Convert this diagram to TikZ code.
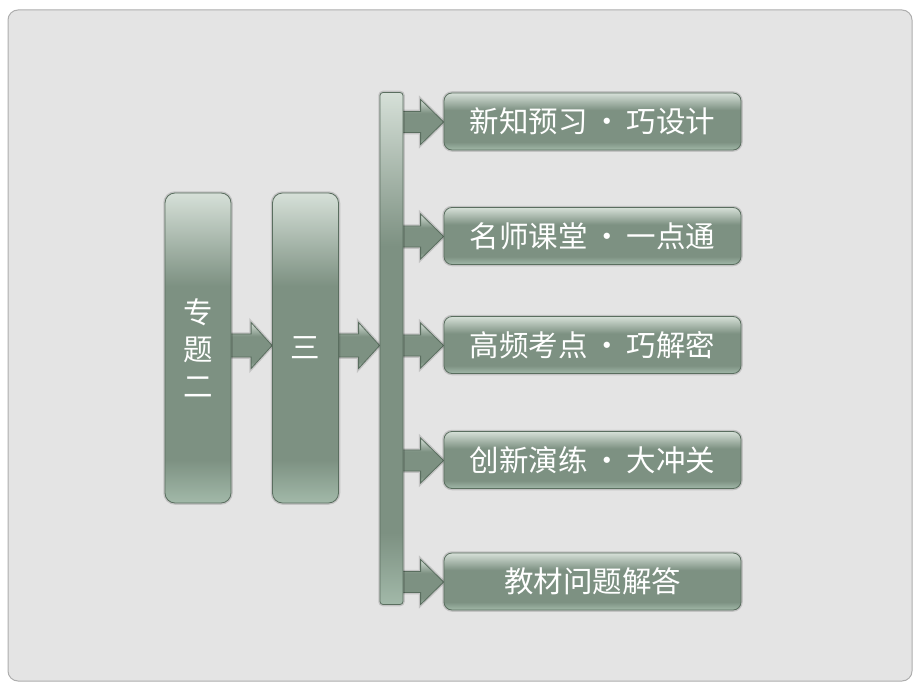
\documentclass[tikz,border=0pt]{standalone}
\usepackage{fontspec}
\newfontfamily\cjk{Noto Sans CJK SC}
\usetikzlibrary{calc}
\definecolor{gtop}{HTML}{D6E0D8}
\definecolor{gmid}{HTML}{7D9182}
\definecolor{gbot}{HTML}{A2B9A9}
\definecolor{gline}{HTML}{5A6E5F}
\definecolor{pagebg}{HTML}{E4E4E4}
\definecolor{pageline}{HTML}{AEAEAE}
\pgfdeclareverticalshading{boxshade}{100bp}{color(0bp)=(gbot); color(25bp)=(gbot); color(32bp)=(gmid); color(60bp)=(gmid); color(75bp)=(gtop); color(100bp)=(gtop)}
\pgfdeclarelayer{back}
\pgfdeclarelayer{bg}
\pgfsetlayers{back,bg,main}
\tikzset{
  glow/.style={preaction={draw=black,opacity=0.14,line width=3.5pt}},
  gbox/.style={draw=gline,line width=0.8pt,shading=boxshade,glow,inner sep=0pt,
    text=white,font=\cjk\fontsize{29.5}{37}\selectfont},
  tallbox/.style={gbox,minimum width=66pt,minimum height=310pt,rounded corners=10pt,align=center},
  wide/.style={gbox,minimum width=297pt,minimum height=57pt,rounded corners=8pt},
  barbox/.style={gbox,minimum width=23pt,minimum height=512pt,rounded corners=3pt},
  arr/.style={draw=gline,line width=0.8pt,shading=boxshade,glow,line join=miter}
}
% #1 source node, #2 target node, #3 y, #4 body half height, #5 head half height, #6 head length
\newcommand{\blockarrow}[6]{%
  \path[arr] ($(#1.east |- 0,#3)+(-2,-#4)$) -- ($(#2.west |- 0,#3)+(-#6,-#4)$)
    -- ($(#2.west |- 0,#3)+(-#6,-#5)$) -- (#2.west |- 0,#3)
    -- ($(#2.west |- 0,#3)+(-#6,#5)$) -- ($(#2.west |- 0,#3)+(-#6,#4)$)
    -- ($(#1.east |- 0,#3)+(-2,#4)$) -- cycle;}
\begin{document}
\begin{tikzpicture}[x=1pt,y=-1pt]
\useasboundingbox (0,0) rectangle (920,690);
\begin{pgfonlayer}{back}
  \fill[white] (0,0) rectangle (920,690);
  \path[fill=pagebg,draw=pageline,line width=1pt,rounded corners=10pt] (8,10) rectangle (912,681);
\end{pgfonlayer}
\node[tallbox] (zt) at (198,348) {专\\题\\二};
\node[tallbox] (san) at (305.5,348) {三};
\node[barbox] (bar) at (391.5,348.5) {};
\node[wide] (b1) at (592.5,121.5) {新知预习\,•\,巧设计};
\node[wide] (b2) at (592.5,236) {名师课堂\,•\,一点通};
\node[wide] (b3) at (592.5,345) {高频考点\,•\,巧解密};
\node[wide] (b4) at (592.5,460) {创新演练\,•\,大冲关};
\node[wide] (b5) at (592.5,581.5) {教材问题解答};
\begin{pgfonlayer}{bg}
  \blockarrow{zt}{san}{345.5}{11.5}{23}{21}
  \blockarrow{san}{bar}{345.5}{11.5}{23}{21}
  \blockarrow{bar}{b1}{122}{10.5}{22.5}{23}
  \blockarrow{bar}{b2}{236.5}{10.5}{22.5}{23}
  \blockarrow{bar}{b3}{345.5}{10.5}{22.5}{23}
  \blockarrow{bar}{b4}{460.5}{10.5}{22.5}{23}
  \blockarrow{bar}{b5}{582}{10.5}{22.5}{23}
\end{pgfonlayer}
\end{tikzpicture}
\end{document}
